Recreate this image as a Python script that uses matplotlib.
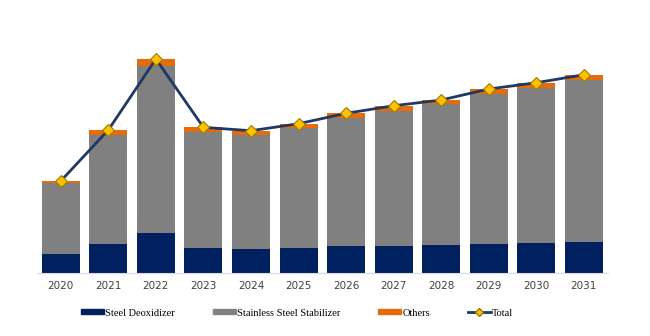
import matplotlib.pyplot as plt
from matplotlib.patches import Patch
from matplotlib.lines import Line2D

# --- data (arbitrary units) ---
years = ["2020", "2021", "2022", "2023", "2024", "2025", "2026", "2027", "2028", "2029", "2030", "2031"]
deoxidizer = [18.7, 28.7, 40.0, 24.4, 24.0, 25.0, 26.7, 26.7, 27.7, 28.7, 29.4, 30.7]
stabilizer = [71.3, 109.3, 167.0, 116.3, 113.4, 120.0, 127.7, 135.3, 140.7, 150.3, 155.6, 162.3]
others = [1.7, 4.7, 6.7, 4.7, 4.6, 4.0, 5.0, 5.0, 4.3, 4.7, 5.0, 5.0]

total = [a + b + c for a, b, c in zip(deoxidizer, stabilizer, others)]
bottom2 = [a + b for a, b in zip(deoxidizer, stabilizer)]

NAVY = "#002060"
GRAY = "#808080"
ORANGE = "#E46C0A"
LINE = "#1F3864"
GOLD = "#FFC000"

fig = plt.figure(figsize=(6.5, 3.36), dpi=100)
ax = fig.add_axes([0.0569, 0.1884, 0.878, 0.752])

x = range(len(years))
ax.bar(x, deoxidizer, width=0.8, color=NAVY)
ax.bar(x, stabilizer, width=0.8, bottom=deoxidizer, color=GRAY)
ax.bar(x, others, width=0.8, bottom=bottom2, color=ORANGE)
ax.plot(x, total, color=LINE, lw=2, marker="D", markersize=6.5,
        markerfacecolor=GOLD, markeredgecolor="#9C7A00", markeredgewidth=0.8, zorder=5)

ax.set_xlim(-0.5, len(years) - 0.5)
ax.set_ylim(0, 252.7)
ax.set_xticks(list(x))
ax.set_xticklabels(years, fontsize=7.5, color="#404040")
ax.tick_params(axis="x", length=0, pad=6)
ax.set_yticks([])
for s in ["top", "right", "left"]:
    ax.spines[s].set_visible(False)
ax.spines["bottom"].set_color("#D9D9D9")

handles = [
    Patch(color=NAVY, label="Steel Deoxidizer"),
    Patch(color=GRAY, label="Stainless Steel Stabilizer"),
    Patch(color=ORANGE, label="Others"),
    Line2D([0], [0], color=LINE, lw=2, marker="D", markersize=4,
           markerfacecolor=GOLD, markeredgecolor="#9C7A00", label="Total"),
]
fig.legend(handles=handles, loc="center", bbox_to_anchor=(297 / 650, 1 - 313 / 336),
           ncol=4, frameon=False, handlelength=2.2, handleheight=0.4, handletextpad=0.1,
           columnspacing=3.65, prop={"family": "Liberation Serif", "size": 7.5})

fig.savefig("out.png", dpi=100)
